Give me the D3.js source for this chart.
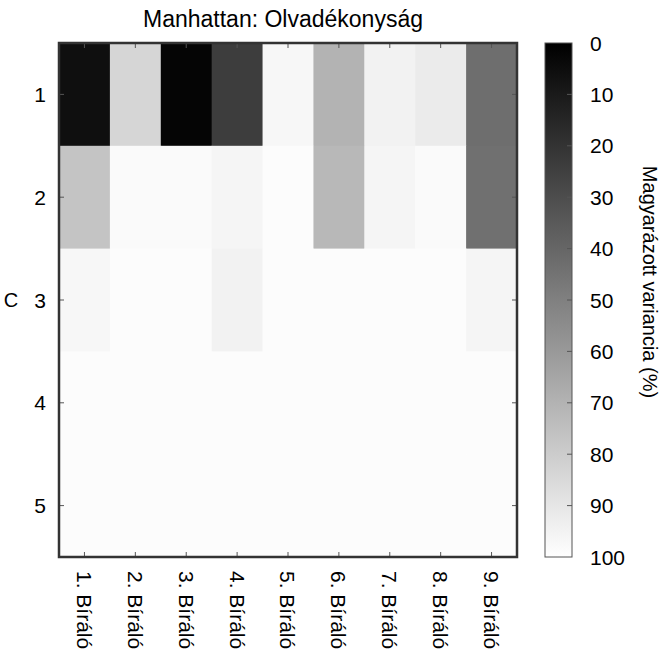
<!DOCTYPE html>
<html>
<head>
<meta charset="utf-8">
<script src="https://cdn.jsdelivr.net/npm/d3@7"></script>
<style>
  body { margin: 0; background: #fff; }
  text { font-family: "Liberation Sans", Arial, sans-serif; fill: #000; }
</style>
</head>
<body>
<div id="chart"></div>
<script>
// Heatmap: explained variance (%) per rater and component

const raters = ["1. Bíráló", "2. Bíráló", "3. Bíráló", "4. Bíráló", "5. Bíráló",
                "6. Bíráló", "7. Bíráló", "8. Bíráló", "9. Bíráló"];
const components = [1, 2, 3, 4, 5];

// one row per component, one value per rater
const row1 = [6, 84, 2, 24, 97, 70, 95, 92, 43];
const row2 = [77, 98, 98, 96, 99, 72, 96, 98, 44];
const row3 = [97, 99, 99, 95, 99, 99, 99, 99, 96];
const row4 = [99, 99, 99, 99, 99, 99, 99, 99, 99];
const row5 = [99, 99, 99, 99, 99, 99, 99, 99, 99];
const variance = [row1, row2, row3, row4, row5];

const cbTicks = [0, 10, 20, 30, 40, 50, 60, 70, 80, 90, 100];

const width = 661, height = 654;
const plot = { left: 59, right: 517, top: 43, bottom: 557 };
const bar = { left: 545, right: 572 };

const svg = d3.select("#chart").append("svg")
    .attr("width", width)
    .attr("height", height);

const x = d3.scaleBand().domain(raters).range([plot.left, plot.right]);
const y = d3.scaleBand().domain(components).range([plot.top, plot.bottom]);
const color = d3.scaleLinear().domain([0, 100]).range(["#000000", "#ffffff"]);

// cells
const cells = [];
variance.forEach((row, i) => row.forEach((v, j) => {
    cells.push({ comp: components[i], rater: raters[j], value: v });
}));

svg.append("g")
    .selectAll("rect")
    .data(cells)
    .enter().append("rect")
    .attr("x", d => x(d.rater))
    .attr("y", d => y(d.comp))
    .attr("width", x.bandwidth() + 0.5)
    .attr("height", y.bandwidth() + 0.5)
    .attr("fill", d => color(d.value));

// inward ticks on all four sides
const tk = 5;
const ticks = svg.append("g").attr("stroke", "#555").attr("stroke-width", 1);
raters.forEach(r => {
    const cx = x(r) + x.bandwidth() / 2;
    ticks.append("line").attr("x1", cx).attr("x2", cx).attr("y1", plot.bottom).attr("y2", plot.bottom - tk);
    ticks.append("line").attr("x1", cx).attr("x2", cx).attr("y1", plot.top).attr("y2", plot.top + tk);
});
components.forEach(c => {
    const cy = y(c) + y.bandwidth() / 2;
    ticks.append("line").attr("x1", plot.left).attr("x2", plot.left + tk).attr("y1", cy).attr("y2", cy);
    ticks.append("line").attr("x1", plot.right).attr("x2", plot.right - tk).attr("y1", cy).attr("y2", cy);
});

// box
svg.append("rect")
    .attr("x", plot.left).attr("y", plot.top)
    .attr("width", plot.right - plot.left)
    .attr("height", plot.bottom - plot.top)
    .attr("fill", "none")
    .attr("stroke", "#333")
    .attr("stroke-width", 2.5);

// y tick labels
svg.append("g")
    .selectAll("text")
    .data(components)
    .enter().append("text")
    .attr("x", 46)
    .attr("y", d => y(d) + y.bandwidth() / 2)
    .attr("dy", "0.36em")
    .attr("text-anchor", "end")
    .attr("font-size", 21)
    .text(d => d);

// x tick labels, rotated
svg.append("g")
    .selectAll("text")
    .data(raters)
    .enter().append("text")
    .attr("transform", d => `translate(${x(d) + x.bandwidth() / 2},571) rotate(90)`)
    .attr("dy", "0.36em")
    .attr("font-size", 21)
    .text(d => d);

// y label
svg.append("text")
    .attr("x", 11)
    .attr("y", 300)
    .attr("dy", "0.36em")
    .attr("text-anchor", "middle")
    .attr("font-size", 20)
    .text("C");

// title
svg.append("text")
    .attr("x", 283)
    .attr("y", 27)
    .attr("text-anchor", "middle")
    .attr("font-size", 23)
    .text("Manhattan: Olvadékonyság");

// colorbar
const cb = d3.scaleLinear().domain([0, 100]).range([plot.top, plot.bottom]);
const grad = svg.append("defs").append("linearGradient")
    .attr("id", "cbgrad")
    .attr("x1", 0).attr("x2", 0).attr("y1", 0).attr("y2", 1);
grad.selectAll("stop")
    .data(cbTicks)
    .enter().append("stop")
    .attr("offset", d => d / 100)
    .attr("stop-color", d => color(d));

svg.append("rect")
    .attr("x", bar.left).attr("y", plot.top)
    .attr("width", bar.right - bar.left)
    .attr("height", plot.bottom - plot.top)
    .attr("fill", "url(#cbgrad)")
    .attr("stroke", "#555")
    .attr("stroke-width", 1);

const cbAxis = svg.append("g");
cbAxis.selectAll("line")
    .data(cbTicks.slice(1, -1))
    .enter().append("line")
    .attr("x1", bar.right).attr("x2", bar.right - 5)
    .attr("y1", d => cb(d)).attr("y2", d => cb(d))
    .attr("stroke", "#555");

cbAxis.selectAll("text")
    .data(cbTicks)
    .enter().append("text")
    .attr("x", 590)
    .attr("y", d => cb(d))
    .attr("dy", "0.36em")
    .attr("font-size", 21)
    .text(d => d);

svg.append("text")
    .attr("transform", "translate(643,282) rotate(90)")
    .attr("text-anchor", "middle")
    .attr("font-size", 20)
    .text("Magyarázott variancia (%)");
</script>
</body>
</html>
